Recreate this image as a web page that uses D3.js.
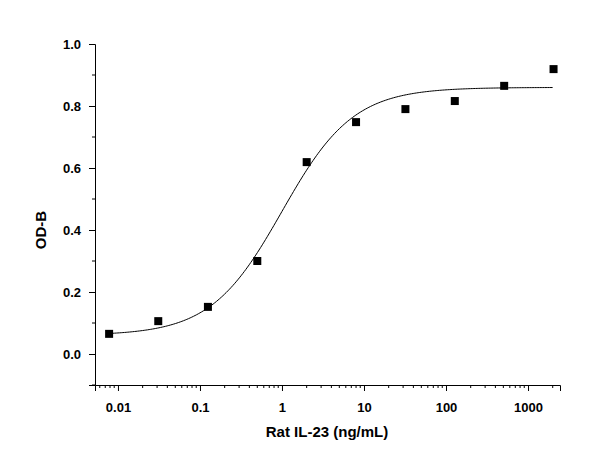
<!DOCTYPE html><html><head><meta charset="utf-8"><script src="https://d3js.org/d3.v7.min.js"></script>
<style>body{margin:0;background:#fff}text{font-family:"Liberation Sans",Arial,sans-serif;font-weight:bold}</style></head><body><svg id="c" width="592" height="476"></svg><script>
const conc=[0.0078,0.031,0.125,0.5,2,8,32,128,512,2048];
const od=[0.065,0.106,0.152,0.30,0.619,0.748,0.79,0.816,0.865,0.919];
const fitParams=[0.06,0.86,1.0,1.0]; // bottom, top, EC50, hill
const xTicks=[0.01,0.1,1,10,100,1000];
const yTicks=[0,0.2,0.4,0.6,0.8,1.0];
const svg=d3.select("#c");
const x=d3.scaleLog().domain([Math.pow(10,-2.28),Math.pow(10,3.39)]).range([95,560]);
const y=d3.scaleLinear().domain([-0.1,1.0]).range([385,44]);
const ax=svg.append("g").attr("transform","translate(0,385)");
ax.call(d3.axisBottom(x).tickValues(xTicks).tickFormat(d=>d3.format("~g")(d)).tickSize(6).tickPadding(12));
const minor=[];for(let e=-3;e<4;e++)for(let k=2;k<10;k++){const v=k*Math.pow(10,e);if(v>x.domain()[0]&&v<x.domain()[1])minor.push(v);}
ax.selectAll(".mn").data(minor).join("line").attr("x1",d=>x(d)).attr("x2",d=>x(d)).attr("y1",0).attr("y2",3).attr("stroke","#000");
const ay=svg.append("g").attr("transform","translate(95,0)");
ay.call(d3.axisLeft(y).tickValues(yTicks).tickFormat(d3.format(".1f")).tickSize(6).tickPadding(8));
ay.selectAll(".mn").data([-0.1,0.1,0.3,0.5,0.7,0.9]).join("line").attr("x1",0).attr("x2",-3).attr("y1",d=>y(d)).attr("y2",d=>y(d)).attr("stroke","#000");
svg.selectAll(".domain").attr("stroke","#000");
svg.selectAll(".tick text").attr("font-size",13).attr("fill","#000");
const [b,t,ec,h]=fitParams;
const xs=d3.range(-2.1,3.31,0.02).map(l=>Math.pow(10,l));
svg.append("path").datum(xs).attr("fill","none").attr("stroke","#000").attr("stroke-width",1)
 .attr("d",d3.line().x(d=>x(d)).y(d=>y(b+(t-b)/(1+Math.pow(ec/d,h)))));
svg.selectAll(".pt").data(conc).join("rect").attr("x",(d)=>x(d)-4).attr("y",(d,i)=>y(od[i])-4).attr("width",8).attr("height",8).attr("fill","#000");
svg.append("text").attr("x",327).attr("y",437).attr("text-anchor","middle").attr("font-size",15).text("Rat IL-23 (ng/mL)");
svg.append("text").attr("transform","translate(46,230) rotate(-90)").attr("text-anchor","middle").attr("font-size",15).text("OD-B");
</script></body></html>
